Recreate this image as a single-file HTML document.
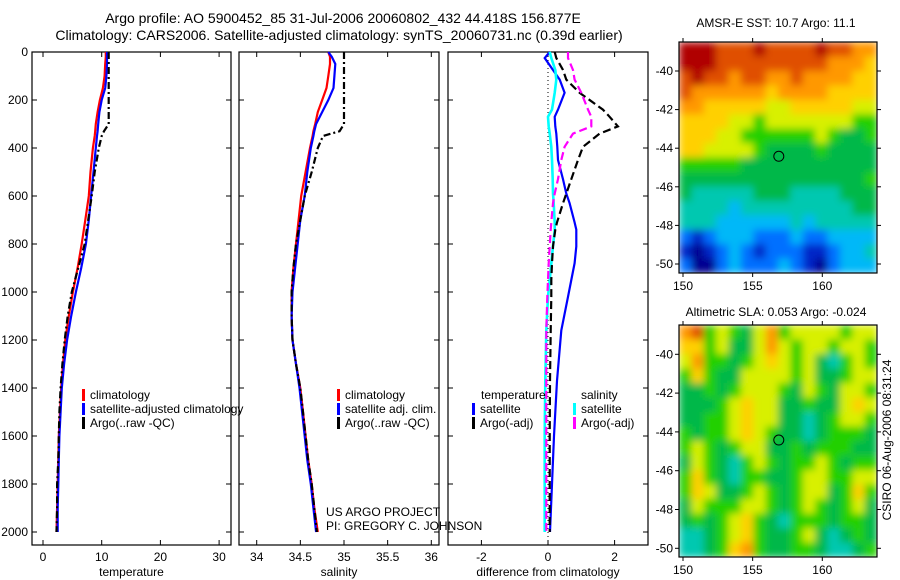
<!DOCTYPE html>
<html><head><meta charset="utf-8">
<style>
html,body{margin:0;padding:0;background:#fff;}
svg{display:block;font-family:"Liberation Sans",sans-serif;}
</style></head>
<body>
<svg id="fig" width="900" height="580" xmlns="http://www.w3.org/2000/svg">
<defs>
<filter id="soft" x="0" y="0" width="1" height="1"><feGaussianBlur stdDeviation="4" edgeMode="duplicate"/></filter>
<clipPath id="clipSst"><rect x="679" y="42" width="198" height="231"/></clipPath>
<clipPath id="clipSla"><rect x="679" y="325" width="198" height="232"/></clipPath>
</defs>
<text x="343" y="23" font-size="14" text-anchor="middle">Argo profile: AO 5900452_85 31-Jul-2006 20060802_432 44.418S 156.877E</text>
<text x="339" y="40" font-size="14" text-anchor="middle">Climatology: CARS2006. Satellite-adjusted climatology: synTS_20060731.nc (0.39d earlier)</text>
<text x="776" y="27" font-size="12" text-anchor="middle">AMSR-E SST: 10.7 Argo: 11.1</text>
<text x="776" y="316" font-size="12" text-anchor="middle">Altimetric SLA: 0.053 Argo: -0.024</text>
<text transform="translate(891,440) rotate(-90)" font-size="12" text-anchor="middle">CSIRO 06-Aug-2006 08:31:24</text>
<text x="326" y="516" font-size="12">US ARGO PROJECT</text>
<text x="326" y="530" font-size="12">PI: GREGORY C. JOHNSON</text>
</svg>
<script>
// ---- data ----
const depths = [0,20,50,100,150,200,250,300,330,350,400,500,600,700,800,900,1000,1100,1200,1300,1400,1500,1600,1700,1800,1900,2000];
const tempClim = [10.7,10.7,10.6,10.5,10.2,9.7,9.3,9.0,8.9,8.8,8.5,8.1,7.8,7.2,6.6,5.9,5.1,4.4,3.8,3.4,3.1,2.9,2.7,2.6,2.5,2.4,2.3];
const tempSat  = [10.9,10.9,10.9,10.8,10.6,10.0,9.6,9.4,9.3,9.2,9.0,8.6,8.2,7.8,7.3,6.5,5.6,4.8,4.1,3.6,3.2,3.0,2.8,2.7,2.6,2.5,2.5];
const tempArgo = [11.2,11.2,11.2,11.2,11.2,11.2,11.2,11.2,10.4,10.0,9.5,8.8,8.3,7.7,7.1,6.0,4.9,4.2,3.7,3.3,3.0,2.8,2.7,2.6,2.4,2.4,2.3];
const salClim = [34.82,34.84,34.84,34.82,34.80,34.75,34.70,34.67,34.65,34.64,34.61,34.56,34.51,34.48,34.45,34.42,34.40,34.40,34.41,34.45,34.50,34.53,34.56,34.59,34.63,34.66,34.70];
const salSat  = [34.82,34.86,34.90,34.89,34.88,34.82,34.75,34.68,34.66,34.65,34.62,34.58,34.55,34.50,34.47,34.44,34.41,34.40,34.41,34.45,34.49,34.52,34.55,34.58,34.62,34.65,34.68];
const salArgo = [35.00,35.00,35.00,35.00,35.00,35.00,35.00,35.00,34.95,34.76,34.70,34.63,34.55,34.50,34.45,34.42,34.40,34.40,34.41,34.45,34.50,34.53,34.56,34.59,34.63,34.66,34.69];
const diffDepths = [0,25,75,115,170,240,270,310,340,395,450,530,590,630,710,740,810,880,950,1020,1160,1370,1600,1800,2000];
const dTempSat  = [0.05,-0.1,0.15,0.35,0.5,0.3,0.2,0.22,0.25,0.28,0.3,0.45,0.55,0.65,0.8,0.85,0.85,0.8,0.7,0.6,0.4,0.27,0.18,0.12,0.06];
const dTempArgo = [0.2,0.25,0.45,0.55,0.95,1.65,1.85,2.1,1.55,1.05,0.9,0.7,0.55,0.45,0.27,0.22,0.15,0.12,0.1,0.1,0.08,0.06,0.05,0.05,0.05];
const dSalSat   = [0.05,0.1,0.22,0.25,0.2,0.12,0.0,0.02,0.05,0.1,0.12,0.14,0.15,0.17,0.2,0.2,0.15,0.1,0.05,0.0,-0.05,-0.08,-0.1,-0.1,-0.1];
const dSalArgo  = [0.6,0.6,0.75,0.8,1.0,1.2,1.3,1.3,0.75,0.5,0.4,0.3,0.2,0.15,0.1,0.08,0.05,0.02,0.0,-0.02,-0.05,-0.05,-0.05,-0.05,-0.05];
const depthTicks = [0,200,400,600,800,1000,1200,1400,1600,1800,2000];
const tempTicks = [0,10,20,30];
const salTicks = [34,34.5,35,35.5,36];
const salTickLabels = ["34","34.5","35","35.5","36"];
const diffTicks = [-2,0,2];
const lonTicks = [150,155,160];
const latTicks = [-40,-42,-44,-46,-48,-50];
const argoLon = 156.877, argoLat = -44.418;
const sstGrid = [
[11,11,11,10,10,10,11,10,10,10,10,11,10,10,9,9],
[11,11,11,10,10,10,10,10,10,10,10,10,9,9,9,8],
[10,11,10,10,9,10,10,9,9,10,9,9,9,9,8,8],
[10,9,9,9,9,9,9,8,9,9,9,9,8,8,8,8],
[9,9,8,8,8,8,8,7,7,8,8,8,8,8,7,7],
[8,8,8,8,7,7,6,7,7,7,7,7,7,7,6,6],
[8,8,8,7,7,6,6,6,6,6,6,7,6,5,5,6],
[8,8,7,7,7,7,6,5,5,5,5,6,5,5,5,5],
[6,6,6,6,6,5,5,5,5,5,5,5,5,5,5,5],
[5,5,5,5,5,5,5,5,5,5,5,5,5,5,5,6],
[5,4,4,4,4,4,5,5,5,4,4,4,4,5,5,5],
[4,4,4,4,3,4,4,4,4,4,4,4,4,4,5,5],
[4,4,4,3,3,3,3,3,3,4,3,4,4,4,4,4],
[2,1,2,3,3,3,2,2,2,3,2,2,3,3,3,3],
[1,0,1,2,3,2,1,2,2,2,1,1,2,3,3,4],
[2,0,0,2,3,2,2,2,3,2,1,0,2,3,3,3]];
const slaGrid = [
[9,10,6,7,6,5,7,9,6,7,7,7,7,6,7,7],
[8,8,6,7,5,5,7,9,7,6,7,7,6,7,7,6],
[7,9,6,6,5,6,7,8,7,6,7,5,4,6,7,6],
[6,8,6,5,5,7,7,7,7,6,7,5,5,6,7,7],
[5,5,6,5,6,7,7,7,6,5,7,6,5,7,7,6],
[5,5,5,6,7,8,7,7,5,5,6,5,5,7,8,7],
[5,5,6,6,7,8,7,7,5,5,4,5,6,7,7,6],
[6,5,6,6,7,8,7,6,5,5,4,5,6,6,6,5],
[6,7,6,5,6,7,7,5,5,6,5,6,6,6,5,5],
[5,7,6,5,4,6,7,6,5,6,6,7,6,5,6,6],
[6,8,6,5,4,6,6,5,5,6,7,7,6,6,7,7],
[6,8,7,5,5,6,7,6,5,6,7,7,5,6,8,6],
[5,7,6,6,6,7,7,6,5,6,7,6,5,6,7,5],
[5,6,5,6,7,8,6,5,4,6,6,6,5,6,6,5],
[4,4,5,6,7,8,6,5,5,6,7,5,4,5,6,5],
[4,4,5,6,8,9,6,5,5,6,6,5,4,4,5,6]];
const levelColors = ["#00008f","#0028c8","#0070ff","#00b8f8","#00c8b0","#00b848","#20d000","#d8f000","#ffd000","#ff9800","#e05000","#b00000"];

// ---- helpers ----
const NS="http://www.w3.org/2000/svg";
const svg=document.getElementById('fig');
function mk(tag,attrs,parent){const e=document.createElementNS(NS,tag);for(const k in attrs)e.setAttribute(k,attrs[k]);(parent||svg).appendChild(e);return e;}
const yD = d => 52 + d*0.24;
const panels = [
 {name:'temperature', x0:32, x1:231, sx:v=>43+5.87*v, ticks:tempTicks, labels:tempTicks.map(String), xlabel:'temperature'},
 {name:'salinity', x0:239, x1:439, sx:v=>256.7+87.3*(v-34), ticks:salTicks, labels:salTickLabels, xlabel:'salinity'},
 {name:'difference', x0:448, x1:648, sx:v=>548+33.3*v, ticks:diffTicks, labels:diffTicks.map(String), xlabel:'difference from climatology'}
];
const TOP=52, BOT=545;
panels.forEach((p,i)=>{
  const g=mk('g',{});
  
  
  const r=mk('rect',{x:p.x0,y:TOP,width:p.x1-p.x0,height:BOT-TOP,fill:'none',stroke:'#000','stroke-width':1.2},g);
  
  
  p.ticks.forEach((t,j)=>{
    const x=p.sx(t);
    mk('line',{x1:x,y1:BOT,x2:x,y2:BOT-5,stroke:'#000'},g);
    mk('line',{x1:x,y1:TOP,x2:x,y2:TOP+5,stroke:'#000'},g);
    const tl=mk('text',{x:x,y:BOT+16,'font-size':12,'text-anchor':'middle'},g);
    tl.textContent=p.labels[j];
    
    
  });
  depthTicks.forEach(d=>{
    const y=yD(d);
    mk('line',{x1:p.x0,y1:y,x2:p.x0+5,y2:y,stroke:'#000'},g);
    mk('line',{x1:p.x1,y1:y,x2:p.x1-5,y2:y,stroke:'#000'},g);
    if(i===0){
      const tl=mk('text',{x:28,y:y+4,'font-size':12,'text-anchor':'end'},g);
      tl.textContent=String(d);
      
      
    }
  });
  const xl=mk('text',{x:(p.x0+p.x1)/2,y:576,'font-size':12,'text-anchor':'middle'},g);
  xl.textContent=p.xlabel;
  
  
});
function line(p,vals,ds,color,dash,name,w){
  const pts=vals.map((v,k)=>p.sx(v).toFixed(1)+','+yD(ds[k]).toFixed(1)).join(' ');
  const a={points:pts,fill:'none',stroke:color,'stroke-width':w||2.2};
  if(dash)a['stroke-dasharray']=dash;
  const e=mk('polyline',a);
  
  
}
const zl=mk('line',{x1:panels[2].sx(0),y1:TOP,x2:panels[2].sx(0),y2:BOT,stroke:'#000','stroke-dasharray':'1,3'});


line(panels[0],tempClim,depths,'#f00',null,'temp-climatology-line');
line(panels[0],tempSat,depths,'#00f',null,'temp-satellite-line');
line(panels[0],tempArgo,depths,'#000','7,3,2,3','temp-argo-line');
line(panels[1],salClim,depths,'#f00',null,'sal-climatology-line');
line(panels[1],salSat,depths,'#00f',null,'sal-satellite-line');
line(panels[1],salArgo,depths,'#000','7,3,2,3','sal-argo-line');
line(panels[2],dTempSat,diffDepths,'#00f',null,'diff-temp-satellite-line');
line(panels[2],dSalSat,diffDepths,'#0ff',null,'diff-sal-satellite-line',2.6);
line(panels[2],dTempArgo,diffDepths,'#000','8,4','diff-temp-argo-line');
line(panels[2],dSalArgo,diffDepths,'#f0f','8,4','diff-sal-argo-line');

function legend(x,y,color,label,name){
  const m=mk('rect',{x:x,y:y-9,width:3,height:12,fill:color});
  
  
  const t=mk('text',{x:x+8,y:y+1,'font-size':12});
  t.textContent=label;
  
  
}
legend(82,398,'#f00','climatology','legend-temp-climatology');
legend(82,412,'#00f','satellite-adjusted climatology','legend-temp-satellite');
legend(82,426,'#000','Argo(..raw -QC)','legend-temp-argo');
legend(337,398,'#f00','climatology','legend-sal-climatology');
legend(337,412,'#00f','satellite adj. clim.','legend-sal-satellite');
legend(337,426,'#000','Argo(..raw -QC)','legend-sal-argo');
const lt=mk('text',{x:481,y:399,'font-size':12});lt.textContent='temperature';


const ls=mk('text',{x:581,y:399,'font-size':12});ls.textContent='salinity';


legend(472,412,'#00f','satellite','legend-diff-temp-satellite');
legend(472,426,'#000','Argo(-adj)','legend-diff-temp-argo');
legend(573,412,'#0ff','satellite','legend-diff-sal-satellite');
legend(573,426,'#f0f','Argo(-adj)','legend-diff-sal-argo');

// ---- maps ----
function map(grid,x0,y0,x1,y1,lat40y,lat50y,name,clip){
  const g=mk('g',{});
  
  
  const cg=mk('g',{'clip-path':'url(#'+clip+')'},g);
  const fg=mk('g',{filter:'url(#soft)'},cg);
  const nr=grid.length,nc=grid[0].length,cw=(x1-x0)/nc,ch=(y1-y0)/nr;
  grid.forEach((row,r)=>row.forEach((v,c)=>{
    const cell=mk('rect',{x:(x0+c*cw).toFixed(2),y:(y0+r*ch).toFixed(2),width:(cw+0.6).toFixed(2),height:(ch+0.6).toFixed(2),fill:levelColors[v]},fg);
    
    
  }));
  mk('rect',{x:x0,y:y0,width:x1-x0,height:y1-y0,fill:'none',stroke:'#000','stroke-width':1.2},g);
  const sxl=lon=>683+(lon-150)*13.93;
  const syl=lat=>lat40y+(-40-lat)*(lat50y-lat40y)/10;
  lonTicks.forEach(l=>{
    const x=sxl(l);
    mk('line',{x1:x,y1:y0,x2:x,y2:y0-4,stroke:'#000'},g);
    mk('line',{x1:x,y1:y1,x2:x,y2:y1+4,stroke:'#000'},g);
    const t=mk('text',{x:x,y:y1+17,'font-size':12,'text-anchor':'middle'},g);
    t.textContent=String(l);
    
    
  });
  latTicks.forEach(l=>{
    const y=syl(l);
    mk('line',{x1:x0,y1:y,x2:x0-4,y2:y,stroke:'#000'},g);
    mk('line',{x1:x1,y1:y,x2:x1+4,y2:y,stroke:'#000'},g);
    const t=mk('text',{x:x0-6,y:y+4,'font-size':12,'text-anchor':'end'},g);
    t.textContent=String(l);
    
    
  });
  const c=mk('circle',{cx:sxl(argoLon),cy:syl(argoLat),r:5,fill:'none',stroke:'#000','stroke-width':1},g);
  
  
}
map(sstGrid,679,42,877,273,71,264,'sst-map','clipSst');
map(slaGrid,679,325,877,557,354.3,548.3,'sla-map','clipSla');
</script>
</body></html>
